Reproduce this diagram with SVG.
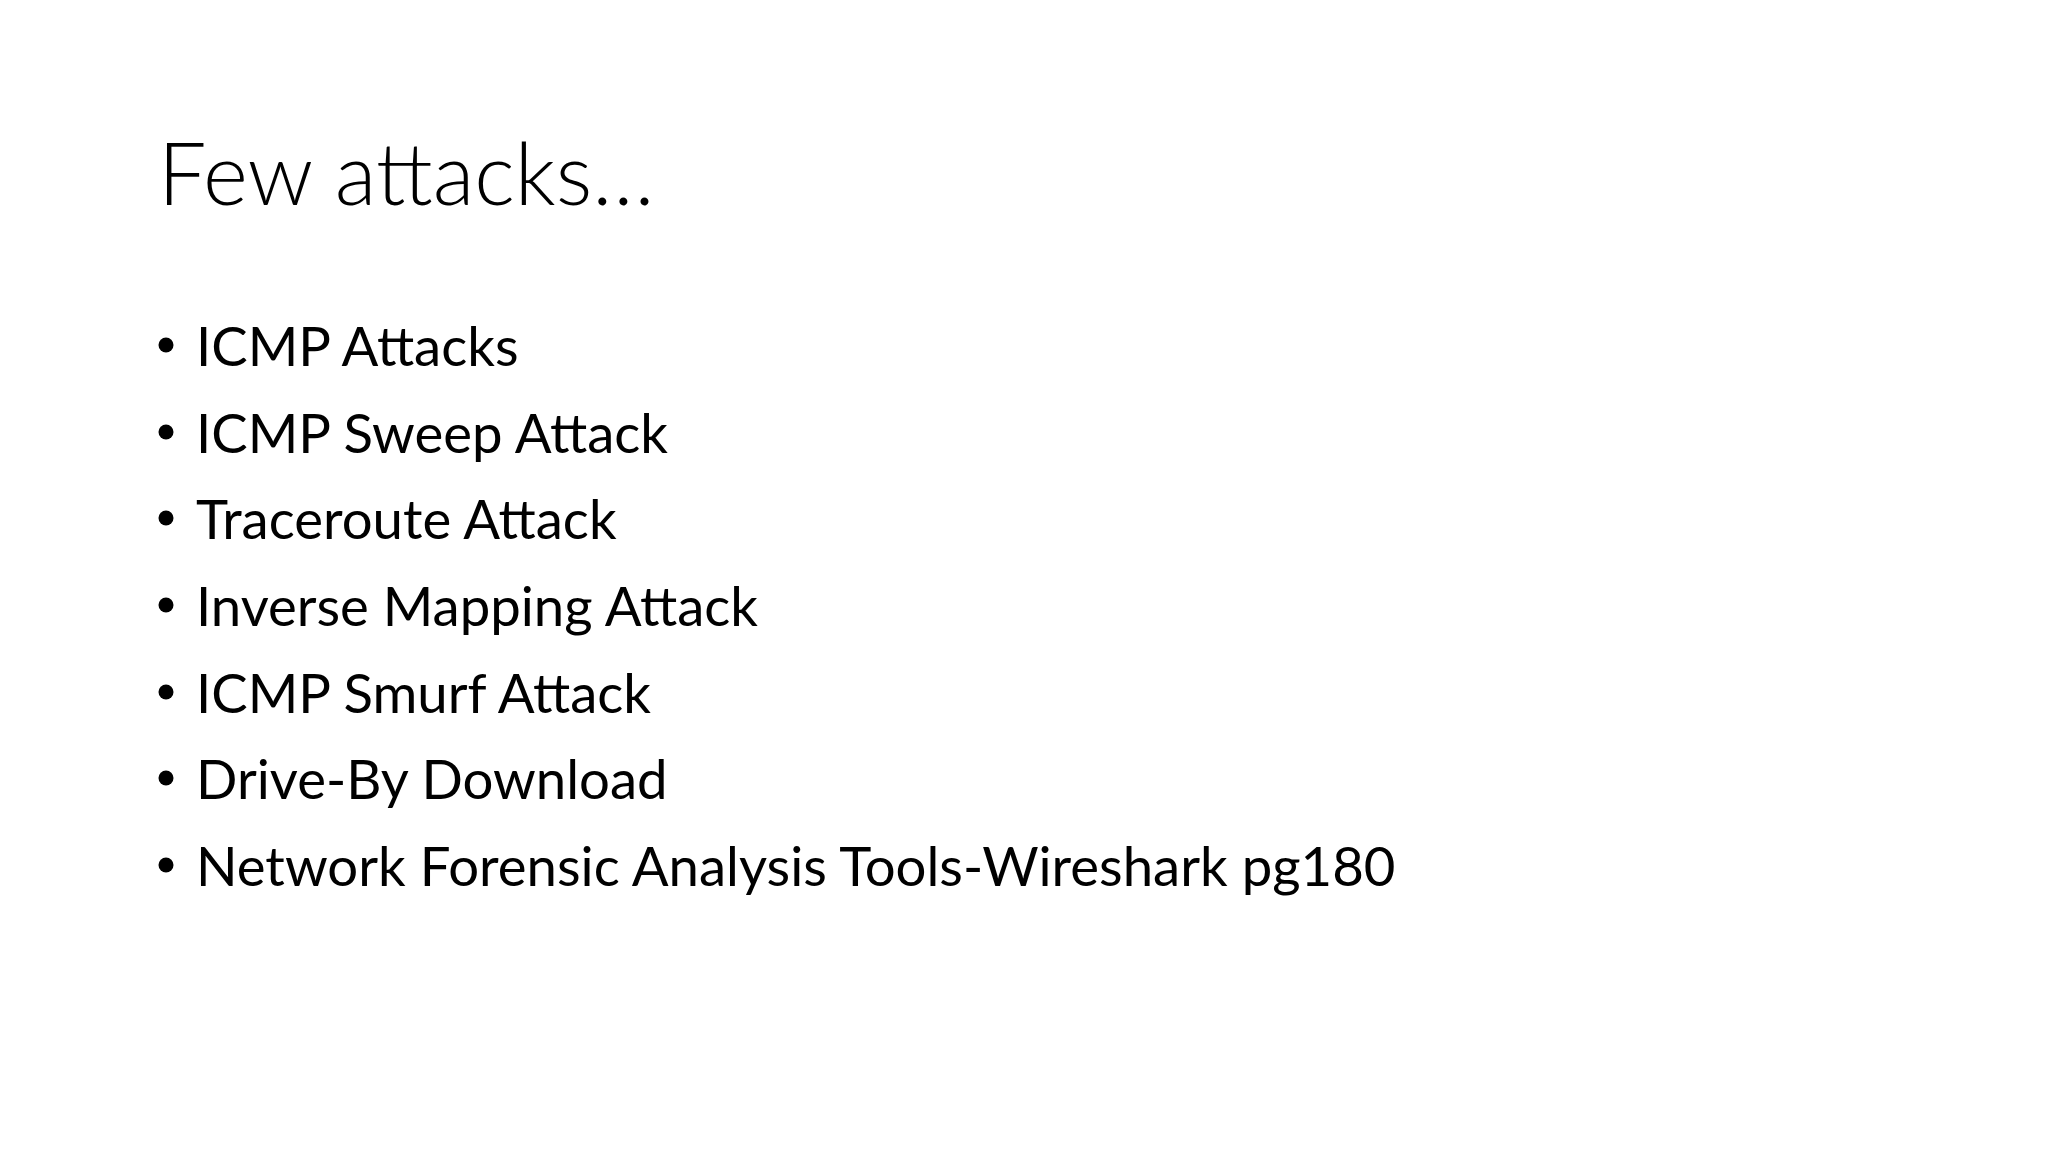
<svg xmlns="http://www.w3.org/2000/svg" width="2048" height="1152" viewBox="0 0 2048 1152">
<style>
.t{font-family:Lato,"Open Sans","Liberation Sans",sans-serif;fill:#000}
.b{font-size:54.5px}
</style>
<rect width="2048" height="1152" fill="#fff"/>
<g id="title"><text class="t" x="158" y="205" font-size="86" font-weight="300">Few attacks…</text></g>
<g id="bullets" class="t b">
<circle cx="166" cy="345" r="7.5"/><text x="196" y="366">ICMP Attacks</text>
<circle cx="166" cy="432" r="7.5"/><text x="196" y="453">ICMP Sweep Attack</text>
<circle cx="166" cy="518" r="7.5"/><text x="196" y="539">Traceroute Attack</text>
<circle cx="166" cy="605" r="7.5"/><text x="196" y="626">Inverse Mapping Attack</text>
<circle cx="166" cy="692" r="7.5"/><text x="196" y="713">ICMP Smurf Attack</text>
<circle cx="166" cy="778" r="7.5"/><text x="196" y="799">Drive-By Download</text>
<circle cx="166" cy="865" r="7.5"/><text x="196" y="886">Network Forensic Analysis Tools-Wireshark pg180</text>
</g>
</svg>
